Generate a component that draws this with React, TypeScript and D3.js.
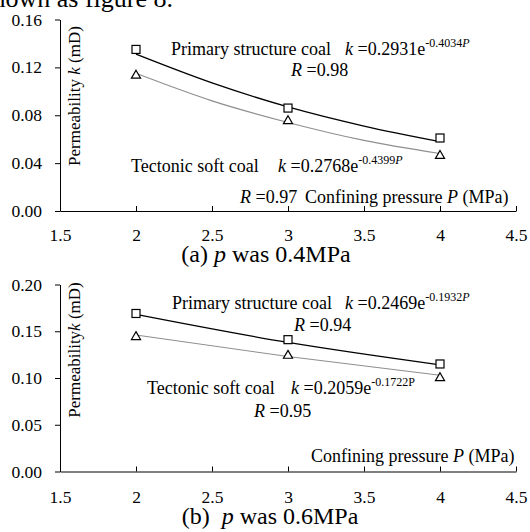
import React, { useEffect, useRef } from "react";
import * as d3 from "d3";

// confining pressure P (MPa)
const pressures = [2, 3, 4];
const trendPressA = [2, 2.5, 3, 3.5, 4];
const trendPressB = [2, 3, 4];

// (a) p = 0.4 MPa
const primaryA = [0.135, 0.086, 0.061];
const tectonicA = [0.114, 0.076, 0.047];
const primaryTrendA = [0.131, 0.107, 0.087, 0.071, 0.058];
const tectonicTrendA = [0.115, 0.092, 0.074, 0.059, 0.048];

// (b) p = 0.6 MPa
const primaryB = [0.169, 0.141, 0.115];
const tectonicB = [0.145, 0.125, 0.101];
const primaryTrendB = [0.168, 0.138, 0.114];
const tectonicTrendB = [0.146, 0.123, 0.103];

const xTicks = [1.5, 2, 2.5, 3, 3.5, 4, 4.5];
const yTicksA = [0, 0.04, 0.08, 0.12, 0.16];
const yTicksB = [0, 0.05, 0.1, 0.15, 0.2];

const FONT = "'Liberation Serif', 'Times New Roman', serif";
const W = 530, H = 532;
const xLeft = 60, xRight = 516;

const drawPanel = (svg, o) => {
    const x = d3.scaleLinear().domain([1.5, 4.5]).range([xLeft, xRight]);
    const y = d3.scaleLinear().domain([0, o.yMax]).range([o.y0, o.yTop]);
    const g = svg.append("g");

    const ya = g.append("g")
        .attr("transform", `translate(${xLeft},0)`)
        .call(d3.axisLeft(y).tickValues(o.yTicks).tickFormat(d3.format(".2f")).tickSizeInner(5).tickSizeOuter(0).tickPadding(13));
    ya.selectAll("text").attr("font-family", FONT).attr("font-size", 17.5).attr("fill", "#000");

    const xa = g.append("g")
        .attr("transform", `translate(0,${o.y0})`)
        .call(d3.axisBottom(x).tickValues(xTicks).tickFormat(d => String(d)).tickSizeInner(-5).tickSizeOuter(0));
    xa.selectAll("text").attr("y", o.xLabelY).attr("dy", 0)
        .attr("font-family", FONT).attr("font-size", 17.5).attr("fill", "#000");
    g.selectAll(".domain, .tick line").attr("stroke", "#000");

    const line = (px) => d3.line().x((d, i) => x(px[i])).y(d => y(d)).curve(d3.curveMonotoneX);

    g.append("path").attr("d", line(o.trendPress)(o.tectonicTrend))
        .attr("fill", "none").attr("stroke", "#8f8f8f").attr("stroke-width", 1.1);
    g.append("path").attr("d", line(o.trendPress)(o.primaryTrend))
        .attr("fill", "none").attr("stroke", "#000").attr("stroke-width", 1.3);

    g.selectAll(".sq").data(o.primary).enter().append("rect")
        .attr("x", (d, i) => x(pressures[i]) - 4)
        .attr("y", d => y(d) - 4)
        .attr("width", 8).attr("height", 8)
        .attr("fill", "#fff").attr("stroke", "#000").attr("stroke-width", 1.2);

    g.selectAll(".tri").data(o.tectonic).enter().append("path")
        .attr("d", d3.symbol(d3.symbolTriangle, 36))
        .attr("transform", (d, i) => `translate(${x(pressures[i])},${y(d) + 1})`)
        .attr("fill", "#fff").attr("stroke", "#000").attr("stroke-width", 1.2);
};

const Eq = ({ x, y, coef, exp, italicP = true }) => (
    <text x={x} y={y}>
        <tspan fontStyle="italic">k</tspan>
        <tspan>{` =${coef}e`}</tspan>
        <tspan fontSize={12} dy={-8}>{exp}</tspan>
        <tspan fontSize={12} fontStyle={italicP ? "italic" : "normal"}>P</tspan>
    </text>
);

const App = () => {
    const svgRef = useRef(null);

    useEffect(() => {
        const svg = d3.select(svgRef.current).select("g.plots");
        svg.selectAll("*").remove();
        drawPanel(svg, {
            yMax: 0.16, y0: 211, yTop: 19.5, yTicks: yTicksA, xLabelY: 30,
            primary: primaryA, tectonic: tectonicA,
            trendPress: trendPressA, primaryTrend: primaryTrendA, tectonicTrend: tectonicTrendA,
        });
        drawPanel(svg, {
            yMax: 0.2, y0: 471.5, yTop: 284.5, yTicks: yTicksB, xLabelY: 31,
            primary: primaryB, tectonic: tectonicB,
            trendPress: trendPressB, primaryTrend: primaryTrendB, tectonicTrend: tectonicTrendB,
        });
    }, []);

    return (
        <svg ref={svgRef} width={W} height={H}
            style={{ position: "absolute", left: 0, top: 0, background: "#fff" }}
            fontFamily={FONT} fill="#000">
            <text x={173} y={7} fontSize={26} textAnchor="end">shown as figure 8.</text>
            <g className="plots"></g>

            {/* panel (a) */}
            <g fontSize={18}>
                <text transform="translate(80,96) rotate(-90)" fontSize={17} textAnchor="middle">
                    Permeability <tspan fontStyle="italic">k</tspan> (mD)
                </text>
                <text x={171} y={55}>Primary structure coal</text>
                <Eq x={345} y={55} coef="0.2931" exp="-0.4034" />
                <text x={291} y={76}><tspan fontStyle="italic">R</tspan> =0.98</text>
                <text x={131} y={172}>Tectonic soft coal</text>
                <Eq x={278} y={172} coef="0.2768" exp="-0.4399" />
                <text x={240} y={203}><tspan fontStyle="italic">R</tspan> =0.97</text>
                <text x={305} y={203}>Confining pressure <tspan fontStyle="italic">P</tspan> (MPa)</text>
                <text x={266} y={262} fontSize={24} textAnchor="middle">(a) <tspan fontStyle="italic">p</tspan> was 0.4MPa</text>
            </g>

            {/* panel (b) */}
            <g fontSize={18}>
                <text transform="translate(80,350) rotate(-90)" fontSize={17} textAnchor="middle">
                    Permeability<tspan fontStyle="italic">k</tspan> (mD)
                </text>
                <text x={172} y={309}>Primary structure coal</text>
                <Eq x={345} y={309} coef="0.2469" exp="-0.1932" />
                <text x={294} y={331}><tspan fontStyle="italic">R</tspan> =0.94</text>
                <text x={147} y={394}>Tectonic soft coal</text>
                <Eq x={291} y={394} coef="0.2059" exp="-0.1722" italicP={false} />
                <text x={254} y={417}><tspan fontStyle="italic">R</tspan> =0.95</text>
                <text x={311} y={462}>Confining pressure <tspan fontStyle="italic">P</tspan> (MPa)</text>
                <text x={270} y={524} fontSize={24} textAnchor="middle" style={{ whiteSpace: "pre" }}>(b)  <tspan fontStyle="italic">p</tspan> was 0.6MPa</text>
            </g>
        </svg>
    );
};

export default App;
